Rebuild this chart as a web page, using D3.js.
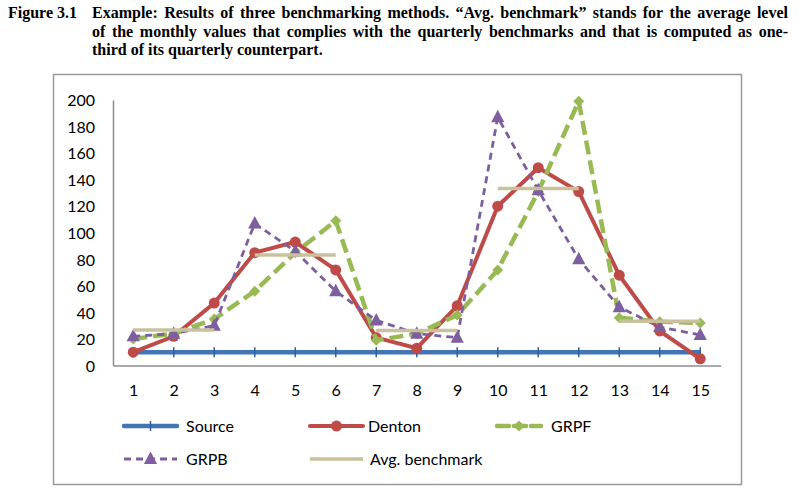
<!DOCTYPE html>
<html lang="en">
<head>
    <meta charset="UTF-8">
    <title>Figure 3.1 benchmarking methods</title>
    <style>
        body { margin: 0; background: #fff; }
        .title { font-family: "Liberation Serif", "Times New Roman", serif; font-weight: bold; font-size: 16px; }
        .axis text, .legend text { font-family: Lato, "Noto Sans", sans-serif; font-size: 16px; fill: #000; }
        .axis path { stroke: #8c8c8c; stroke-width: 1.5px; }
    </style>
</head>
<body>
<svg id="chart" width="800" height="493"></svg>
<script src="https://d3js.org/d3.v7.min.js"></script>
<script>
    // data
    const months = d3.range(1, 16);
    const source = [10, 10, 10, 10, 10, 10, 10, 10, 10, 10, 10, 10, 10, 10, 10];
    const denton = [10, 22, 47, 85, 93, 72, 21, 13, 45, 120, 149, 131, 68, 26, 5];
    const grpf   = [20, 24, 35, 56, 85, 109, 19, 24, 38, 72, 131, 199, 36, 33, 32];
    const grpb   = [22, 24, 30, 107, 86, 56, 34, 24, 21, 187, 132, 80, 44, 29, 23];
    const quarters = [[1, 3], [4, 6], [7, 9], [10, 12], [13, 15]];
    const avgBench = [26.7, 83.3, 26.3, 133.3, 33.3];
    const yTicks = d3.range(0, 201, 20);

    const titleLines = [
        "Example: Results of three benchmarking methods. \u201cAvg. benchmark\u201d stands for the average level",
        "of the monthly values that complies with the quarterly benchmarks and that is computed as one-",
        "third of its quarterly counterpart."
    ];

    const svg = d3.select('#chart');

    // caption, justified word by word like the printed page
    const title = svg.append('g').attr('class', 'title');
    title.append('text').attr('x', 8).attr('y', 18).text('Figure 3.1');
    const left = 92, right = 788;
    titleLines.forEach((line, i) => {
        const yy = 18 + i * 18.5;
        const words = line.split(' ');
        const nodes = words.map(w => title.append('text').attr('y', yy).text(w));
        const widths = nodes.map(n => n.node().getComputedTextLength());
        const total = d3.sum(widths);
        const last = i === titleLines.length - 1;
        const gap = last ? 4 : (right - left - total) / (words.length - 1);
        let cx = left;
        nodes.forEach((n, j) => {
            n.attr('x', cx);
            cx += widths[j] + gap;
        });
    });

    // chart frame
    svg.append('rect')
        .attr('x', 53.5).attr('y', 74.5)
        .attr('width', 688).attr('height', 410)
        .attr('fill', 'none').attr('stroke', '#9a9a9a').attr('stroke-width', 1.5);

    const x = d3.scalePoint().domain(months).range([113, 720.5]).padding(0.5);
    const y = d3.scaleLinear().domain([0, 200]).range([365.5, 100]);

    svg.append('g')
        .attr('class', 'axis')
        .attr('transform', 'translate(113,0)')
        .call(d3.axisLeft(y).tickValues(yTicks).tickSize(0).tickSizeOuter(0).tickPadding(18))
        .selectAll('text').attr('dy', '0.36em');

    svg.append('g')
        .attr('class', 'axis')
        .attr('transform', 'translate(0,365.5)')
        .call(d3.axisBottom(x).tickSize(0).tickSizeOuter(0).tickPadding(19));

    const line = d3.line().x((d, i) => x(months[i])).y(d => y(d));

    const colors = {
        source: '#4275b6',
        denton: '#be4b48',
        grpf: '#98b954',
        grpb: '#7d5fa0',
        avg: '#c9c19b'
    };

    function triangle(g, cx, cy, s, color) {
        g.append('path')
            .attr('d', `M${cx},${cy - s * 0.62}L${cx + s * 0.55},${cy + s * 0.42}L${cx - s * 0.55},${cy + s * 0.42}Z`)
            .attr('fill', color);
    }
    function diamond(g, cx, cy, s, color) {
        g.append('path')
            .attr('d', `M${cx},${cy - s / 2}L${cx + s / 2},${cy}L${cx},${cy + s / 2}L${cx - s / 2},${cy}Z`)
            .attr('fill', color);
    }

    const plot = svg.append('g');

    // Source
    plot.append('path').datum(source).attr('d', line)
        .attr('fill', 'none').attr('stroke', colors.source).attr('stroke-width', 4.5);
    plot.selectAll('.src-mark').data(source).enter().append('line')
        .attr('x1', (d, i) => x(months[i])).attr('x2', (d, i) => x(months[i]))
        .attr('y1', d => y(d) - 5).attr('y2', d => y(d) + 5)
        .attr('stroke', '#2f5f9e').attr('stroke-width', 1.5);

    // Denton
    plot.append('path').datum(denton).attr('d', line)
        .attr('fill', 'none').attr('stroke', colors.denton).attr('stroke-width', 4);
    plot.selectAll('.den-mark').data(denton).enter().append('circle')
        .attr('cx', (d, i) => x(months[i])).attr('cy', d => y(d)).attr('r', 5.5)
        .attr('fill', colors.denton);

    // GRPF
    plot.append('path').datum(grpf).attr('d', line)
        .attr('fill', 'none').attr('stroke', colors.grpf).attr('stroke-width', 4.5)
        .attr('stroke-dasharray', '14,6');
    grpf.forEach((d, i) => diamond(plot, x(months[i]), y(d), 11, colors.grpf));

    // GRPB
    plot.append('path').datum(grpb).attr('d', line)
        .attr('fill', 'none').attr('stroke', colors.grpb).attr('stroke-width', 2.8)
        .attr('stroke-dasharray', '7,5');
    grpb.forEach((d, i) => triangle(plot, x(months[i]), y(d), 12, colors.grpb));

    // Avg. benchmark, one segment per quarter
    plot.selectAll('.avg').data(avgBench).enter().append('line')
        .attr('x1', (d, i) => x(quarters[i][0])).attr('x2', (d, i) => x(quarters[i][1]))
        .attr('y1', d => y(d)).attr('y2', d => y(d))
        .attr('stroke', colors.avg).attr('stroke-width', 3.5);

    // legend
    const legend = svg.append('g').attr('class', 'legend');
    const items = [
        { name: 'Source', key: 'source', x: 124, y: 426, tx: 186 },
        { name: 'Denton', key: 'denton', x: 310, y: 426, tx: 368 },
        { name: 'GRPF', key: 'grpf', x: 495, y: 426, tx: 551 },
        { name: 'GRPB', key: 'grpb', x: 124, y: 459, tx: 186 },
        { name: 'Avg. benchmark', key: 'avg', x: 310, y: 459, tx: 370 }
    ];
    items.forEach(it => {
        const g = legend.append('g');
        const w = it.key === 'grpf' ? 48 : 53;
        const ln = g.append('line')
            .attr('x1', it.x).attr('x2', it.x + w)
            .attr('y1', it.y).attr('y2', it.y)
            .attr('stroke', colors[it.key]);
        const mid = it.x + w / 2;
        if (it.key === 'source') {
            ln.attr('stroke-width', 4.5).attr('stroke-linecap', 'round');
            g.append('line').attr('x1', mid).attr('x2', mid).attr('y1', it.y - 5).attr('y2', it.y + 5)
                .attr('stroke', '#2f5f9e').attr('stroke-width', 1.5);
        } else if (it.key === 'denton') {
            ln.attr('stroke-width', 4).attr('stroke-linecap', 'round');
            g.append('circle').attr('cx', mid).attr('cy', it.y).attr('r', 5.5).attr('fill', colors.denton);
        } else if (it.key === 'grpf') {
            ln.attr('stroke-width', 4.5).attr('stroke-dasharray', '12,5').attr('stroke-linecap', 'round')
                .attr('x1', it.x + 2).attr('x2', it.x + w - 2);
            diamond(g, mid, it.y, 11, colors.grpf);
        } else if (it.key === 'grpb') {
            ln.attr('stroke-width', 2.8).attr('stroke-dasharray', '7,5');
            triangle(g, mid, it.y, 12, colors.grpb);
        } else {
            ln.attr('stroke-width', 3.5);
        }
        g.append('text').attr('x', it.tx).attr('y', it.y).attr('dy', '0.36em').text(it.name);
    });
</script>
</body>
</html>
